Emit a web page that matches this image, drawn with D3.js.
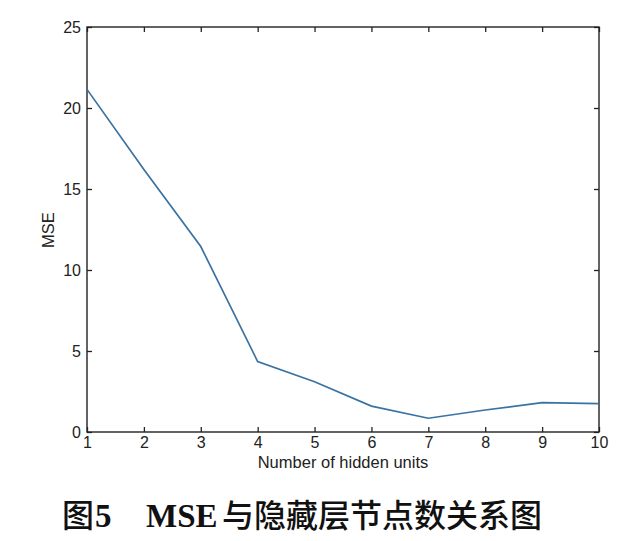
<!DOCTYPE html>
<html><head><meta charset="utf-8">
<script src="https://cdn.jsdelivr.net/npm/d3@7"></script>
<style>body{margin:0;background:#fff}</style>
</head><body>
<svg id="c" width="637" height="541"></svg>
<script>
const hiddenUnits = [1,2,3,4,5,6,7,8,9,10];
const mseValues = [21.15, 16.2, 11.45, 4.35, 3.1, 1.6, 0.85, 1.36, 1.81, 1.75];
const xTicks = [1,2,3,4,5,6,7,8,9,10];
const yTicks = [0,5,10,15,20,25];

const svg = d3.select("#c");
const L = 87, R = 599, T = 27, B = 432;
const x = d3.scaleLinear().domain([1,10]).range([L,R]);
const y = d3.scaleLinear().domain([0,25]).range([B,T]);
const font = "Liberation Sans, Arial, sans-serif";

// box
svg.append("rect").attr("x",L).attr("y",T).attr("width",R-L).attr("height",B-T)
  .attr("fill","none").attr("stroke","#222").attr("stroke-width",1.4);

const tl = 5;
const axB = svg.append("g").attr("transform",`translate(0,${B})`)
  .call(d3.axisBottom(x).tickValues(xTicks).tickSize(-tl).tickFormat(d3.format("d")));
const axT = svg.append("g").attr("transform",`translate(0,${T})`)
  .call(d3.axisTop(x).tickValues(xTicks).tickSize(-tl).tickFormat(""));
const axL = svg.append("g").attr("transform",`translate(${L},0)`)
  .call(d3.axisLeft(y).tickValues(yTicks).tickSize(-tl).tickFormat(d3.format("d")));
const axR = svg.append("g").attr("transform",`translate(${R},0)`)
  .call(d3.axisRight(y).tickValues(yTicks).tickSize(-tl).tickFormat(""));
[axB,axT,axL,axR].forEach(a=>{
  a.select(".domain").remove();
  a.selectAll(".tick line").attr("stroke","#222").attr("stroke-width",1.3);
  a.selectAll("text").attr("font-family",font).attr("font-size",16).attr("fill","#222");
});
axL.selectAll("text").attr("x",-6);
axB.selectAll("text").attr("y",5).attr("dy","0.71em");

// line
svg.append("path").datum(hiddenUnits.map((d,i)=>[d,mseValues[i]]))
  .attr("fill","none").attr("stroke","#3a72a2").attr("stroke-width",1.7)
  .attr("d", d3.line().x(d=>x(d[0])).y(d=>y(d[1])));

// labels
svg.append("text").attr("x",343).attr("y",468).attr("text-anchor","middle")
  .attr("font-family",font).attr("font-size",16.5).attr("fill","#222").text("Number of hidden units");
svg.append("text").attr("transform",`translate(54,230) rotate(-90)`).attr("text-anchor","middle")
  .attr("font-family",font).attr("font-size",16.5).attr("fill","#222").text("MSE");

// caption
const cy = 527;
const cjk = "Noto Sans CJK SC, sans-serif";
const serif = "Liberation Serif, Times New Roman, serif";
svg.append("text").attr("x",62).attr("y",cy).attr("font-family",cjk).attr("font-weight",500)
  .attr("font-size",32).attr("fill","#111").text("图");
svg.append("text").attr("x",95).attr("y",cy).attr("font-family",serif).attr("font-weight",700)
  .attr("font-size",33).attr("fill","#111").text("5");
svg.append("text").attr("x",146).attr("y",cy).attr("font-family",serif).attr("font-weight",700)
  .attr("font-size",33).attr("fill","#111").text("MSE");
svg.append("text").attr("x",222).attr("y",cy).attr("font-family",cjk).attr("font-weight",500)
  .attr("font-size",32).attr("fill","#111").text("与隐藏层节点数关系图");
</script>
</body></html>
